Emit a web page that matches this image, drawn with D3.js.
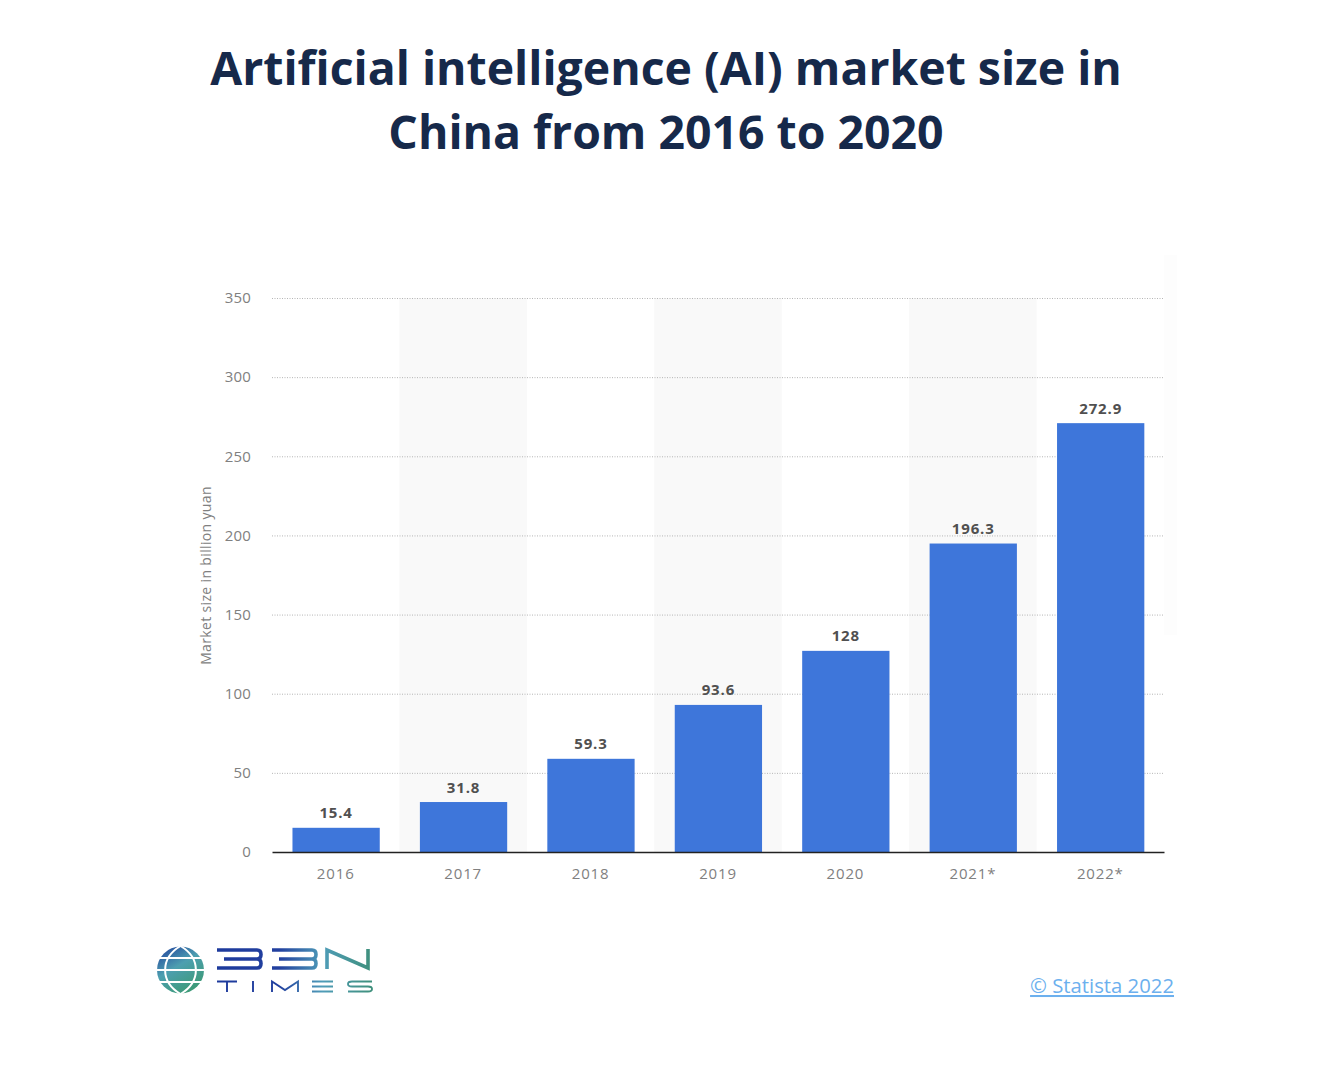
<!DOCTYPE html>
<html>
<head>
<meta charset="utf-8">
<script src="https://cdn.jsdelivr.net/npm/d3@7"></script>
<style>
html, body { margin: 0; padding: 0; background: #fff; }
text { font-family: "Open Sans", sans-serif; }
.tick line { stroke: #b5b5b5; stroke-dasharray: 1 1.5; }
.tick text { fill: #808080; font-size: 15px; }
</style>
</head>
<body>
<svg id="chart" width="1333" height="1080"></svg>
<script>
var years = ["2016", "2017", "2018", "2019", "2020", "2021*", "2022*"];
var marketSize = [15.4, 31.8, 59.3, 93.6, 128, 196.3, 272.9];
var valueLabels = ["15.4", "31.8", "59.3", "93.6", "128", "196.3", "272.9"];
var yTicks = [0, 50, 100, 150, 200, 250, 300, 350];
var titleLines = ["Artificial intelligence (AI) market size in", "China from 2016 to 2020"];

var svg = d3.select("#chart");

var x = d3.scaleBand().domain(years).range([272.4, 1164.4]).paddingInner(0.315).paddingOuter(0.1575);
var xStripe = d3.scaleBand().domain(years).range([272, 1164]);
var y = d3.scaleLinear().domain([0, 350]).range([852, 298]);
// the bars in the picture run a little short of the gridlines
var yBar = d3.scaleLinear().domain([0, 350]).range([852, 302]);

// title
svg.selectAll(".title")
  .data(titleLines)
  .enter()
  .append("text")
  .attr("class", "title")
  .attr("x", 666)
  .attr("y", function(d, i) { return 85 + i * 64; })
  .attr("text-anchor", "middle")
  .attr("fill", "#16294a")
  .style("font-size", "46.4px")
  .style("font-weight", 700)
  .text(function(d) { return d; });

// faint band right of the plot
svg.append("rect")
  .attr("x", 1164).attr("y", 255).attr("width", 13).attr("height", 380)
  .attr("fill", "#fdfdfd");

// alternating stripes
svg.selectAll(".stripe")
  .data(years.filter(function(d, i) { return i % 2 === 1; }))
  .enter()
  .append("rect")
  .attr("class", "stripe")
  .attr("x", function(d) { return xStripe(d); })
  .attr("width", xStripe.bandwidth())
  .attr("y", y(350))
  .attr("height", y(0) - y(350))
  .attr("fill", "#f9f9f9");

// grid + y labels
var yAxis = svg.append("g")
  .attr("transform", "translate(272,0)")
  .call(d3.axisLeft(y).tickValues(yTicks).tickSize(-892).tickPadding(21));
yAxis.select(".domain").remove();
yAxis.selectAll(".tick text").attr("dy", "0.32em").style("letter-spacing", "0.2px");
yAxis.selectAll(".tick").filter(function(d) { return d === 0; }).select("line").remove();

svg.append("text")
  .attr("transform", "translate(211,575.5) rotate(-90)")
  .attr("text-anchor", "middle")
  .attr("fill", "#808080")
  .style("font-size", "14px")
  .style("letter-spacing", "0.35px")
  .text("Market size in billion yuan");

// bars
svg.selectAll(".bar")
  .data(marketSize)
  .enter()
  .append("rect")
  .attr("class", "bar")
  .attr("x", function(d, i) { return x(years[i]); })
  .attr("width", x.bandwidth())
  .attr("y", function(d) { return yBar(d); })
  .attr("height", function(d) { return yBar(0) - yBar(d); })
  .attr("fill", "#3e76da");

svg.selectAll(".value")
  .data(marketSize)
  .enter()
  .append("text")
  .attr("class", "value")
  .attr("x", function(d, i) { return x(years[i]) + x.bandwidth() / 2; })
  .attr("y", function(d) { return yBar(d) - 9.5; })
  .attr("text-anchor", "middle")
  .attr("fill", "#505050")
  .style("font-size", "15px")
  .style("font-weight", 700)
  .style("letter-spacing", "0.85px")
  .text(function(d, i) { return valueLabels[i]; });

// x axis
var xAxis = svg.append("g")
  .attr("transform", "translate(0,852)")
  .call(d3.axisBottom(xStripe).tickSize(0).tickPadding(16));
xAxis.select(".domain").attr("stroke", "#222").attr("stroke-width", 1.6);
xAxis.selectAll(".tick text").style("letter-spacing", "0.85px");

// source link
svg.append("text")
  .attr("x", 1174)
  .attr("y", 993)
  .attr("text-anchor", "end")
  .attr("fill", "#6cb0ee")
  .style("font-size", "20.3px")
  .style("text-decoration", "underline")
  .text("© Statista 2022");

// logo
var defs = svg.append("defs");
var grad = defs.append("linearGradient").attr("id", "logoGrad").attr("gradientUnits", "userSpaceOnUse")
  .attr("x1", 217).attr("y1", 0).attr("x2", 372).attr("y2", 0);
grad.append("stop").attr("offset", "0").attr("stop-color", "#1d3a9c");
grad.append("stop").attr("offset", "0.4").attr("stop-color", "#22409f");
grad.append("stop").attr("offset", "0.68").attr("stop-color", "#4f9cb8");
grad.append("stop").attr("offset", "1").attr("stop-color", "#3f907c");
var globeGrad = defs.append("linearGradient").attr("id", "globeGrad")
  .attr("x1", 0).attr("y1", 0).attr("x2", 0.6).attr("y2", 1);
globeGrad.append("stop").attr("offset", "0").attr("stop-color", "#1f3c9c");
globeGrad.append("stop").attr("offset", "0.5").attr("stop-color", "#4d9fb0");
globeGrad.append("stop").attr("offset", "1").attr("stop-color", "#3d9a78");

var logo = svg.append("g");
logo.append("circle").attr("cx", 180.5).attr("cy", 970).attr("r", 23.5).attr("fill", "url(#globeGrad)");
var globeLines = ["M157 970H204", "M159 958H202", "M159 982H202", "M180.5 946C160 958 160 982 180.5 994", "M180.5 946C201 958 201 982 180.5 994"];
logo.selectAll(".gl").data(globeLines).enter().append("path").attr("class", "gl")
  .attr("d", function(d) { return d; }).attr("fill", "none").attr("stroke", "#fff").attr("stroke-width", 2);

var logoStrokes = [
  "M217 950H257Q261 950 261 954.5Q261 959 257 959H224M257 959Q261 959 261 963.5Q261 968 257 968H217",
  "M272 950H312Q316 950 316 954.5Q316 959 312 959H279M312 959Q316 959 316 963.5Q316 968 312 968H272",
  "M327 969V950L368 968V949",
  "M217 981.5H237M227 981.5V992",
  "M253 981V992",
  "M272 992V981.5L285 990L298 981.5V992",
  "M312 981.5H333M312 986.5H333M312 991.5H333",
  "M372 981.5H352Q348 981.5 348 984Q348 986.5 352 986.5H368Q372 986.5 372 989Q372 991.5 368 991.5H348"
];
logo.selectAll(".ls").data(logoStrokes).enter().append("path").attr("class", "ls")
  .attr("d", function(d) { return d; }).attr("fill", "none").attr("stroke", "url(#logoGrad)")
  .attr("stroke-width", function(d, i) { return i < 3 ? 3.6 : 1.9; });
</script>
</body>
</html>
